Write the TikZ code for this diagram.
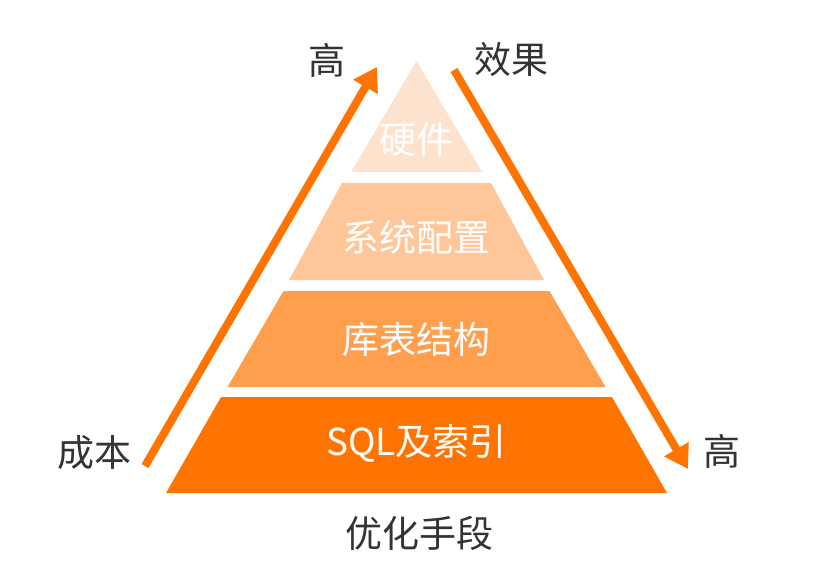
\documentclass[tikz,border=0pt]{standalone}
\usepackage{fontspec}
\newfontfamily\cjk{Noto Sans CJK SC}
\usetikzlibrary{arrows.meta}
\definecolor{lvA}{HTML}{FDE3CE}
\definecolor{lvB}{HTML}{FFC799}
\definecolor{lvC}{HTML}{FF9F4E}
\definecolor{lvD}{HTML}{FF7300}
\definecolor{arrowc}{HTML}{FF7300}
\definecolor{txt}{HTML}{333333}
\begin{document}
\begin{tikzpicture}[x=1pt,y=-1pt,
  band/.style={draw=none},
  intext/.style={text=white,inner sep=0pt,font=\cjk\fontsize{37}{40}\selectfont},
  outtext/.style={text=txt,inner sep=0pt,font=\cjk\fontsize{37}{40}\selectfont},
  bigarrow/.style={draw=arrowc,line width=8pt,-{Triangle[length=23pt,width=27pt]}}]
\useasboundingbox[fill=white] (0,0) rectangle (816,572);
% bands
\fill[band,lvA] (416.5,61) -- (482,172) -- (351,172) -- cycle;
\fill[band,lvB] (342,183) -- (491,183) -- (544,280) -- (289,280) -- cycle;
\fill[band,lvC] (283.5,291) -- (549.5,291) -- (605.5,387) -- (227.5,387) -- cycle;
\fill[band,lvD] (221,397) -- (612,397) -- (667,493) -- (166,493) -- cycle;
% band labels
\node[intext] (hw) at (416.5,140) {硬件};
\node[intext] (sys) at (416.5,237) {系统配置};
\node[intext] (tab) at (416.5,340) {库表结构};
\node[intext] (sql) at (416.5,443) {SQL及索引};
% arrows
\coordinate (lA) at (145,466);
\coordinate (lB) at (377,67);
\coordinate (rA) at (454,70);
\coordinate (rB) at (688,469);
\draw[bigarrow] (lA) -- (lB);
\draw[bigarrow] (rA) -- (rB);
% outer labels
\node[outtext] (costhigh) at (327,60) {高};
\node[outtext] (effect) at (511,59) {效果};
\node[outtext] (cost) at (94,453) {成本};
\node[outtext] (effhigh) at (722,451) {高};
\node[outtext] (means) at (419,533) {优化手段};
\end{tikzpicture}
\end{document}
